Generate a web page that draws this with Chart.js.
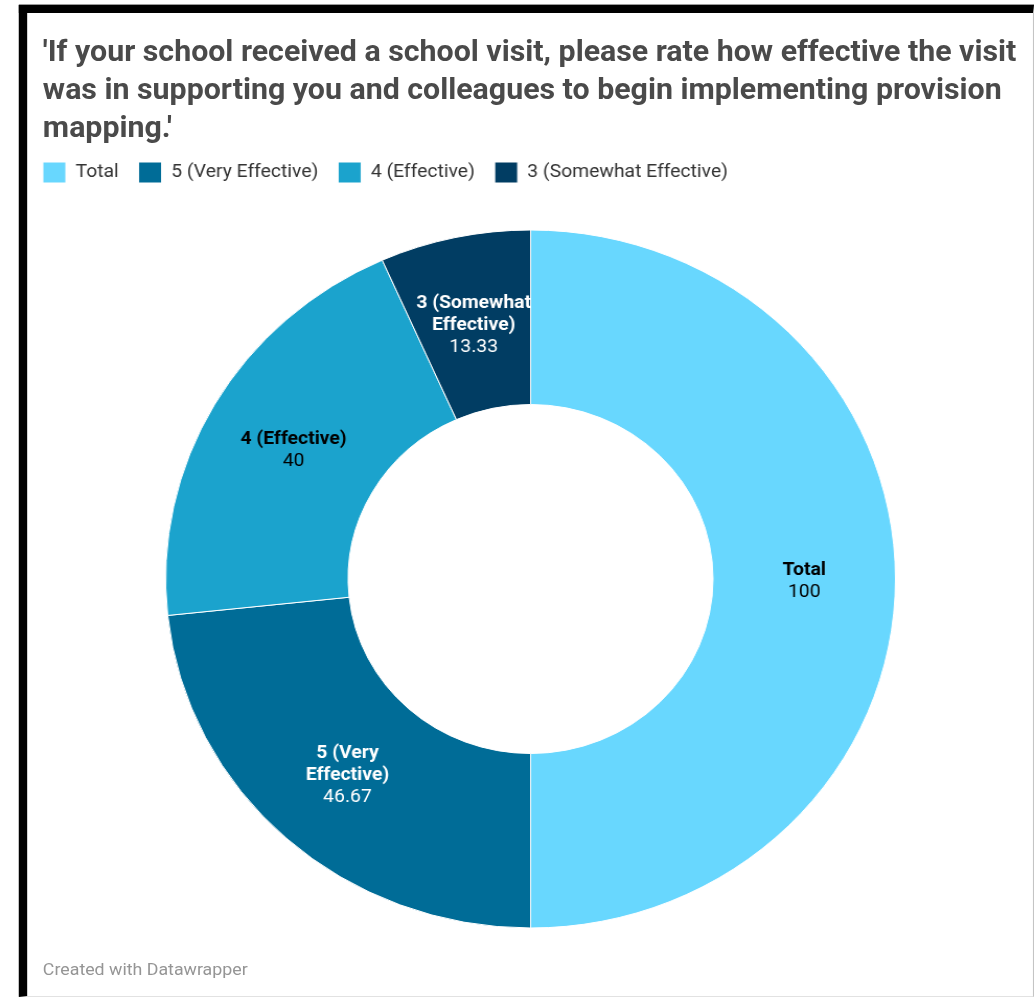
<!DOCTYPE html>
<html>
<head>
<meta charset="utf-8">
<script src="https://cdn.jsdelivr.net/npm/chart.js@4/dist/chart.umd.min.js"></script>
<style>
    body { margin: 0; background: #fff; overflow: hidden; }
    /* whole card is drawn a little wider than tall */
    #page {
        position: relative;
        width: 994px;
        height: 997px;
        transform: scaleX(1.0455);
        transform-origin: 0 0;
        font-family: Roboto, "Noto Sans", sans-serif;
    }
    #frame {
        position: absolute;
        left: 18px;
        top: 5px;
        width: 971px;
        height: 992px;
        box-sizing: border-box;
        border-top: 8px solid #000;
        border-left: 8px solid #000;
        border-right: 1px solid #c4c4c4;
        border-bottom: 1px solid #e2e2e2;
        box-shadow: 0 -1px 0 #9a9a9a;
    }
    #title {
        position: absolute;
        left: 41px;
        top: 32px;
        margin: 0;
        font-size: 29px;
        font-weight: 700;
        line-height: 38px;
        color: #4a4a4a;
        white-space: nowrap;
    }
    #chartCanvas {
        position: absolute;
        left: 0;
        top: 130px;
    }
    #footer {
        position: absolute;
        left: 41px;
        top: 958px;
        font-size: 17px;
        line-height: 22px;
        color: #959595;
    }
</style>
</head>
<body>
<div id="page">
    <div id="frame"></div>
    <h1 id="title">'If your school received a school visit, please rate how effective the visit<br>was in supporting you and colleagues to begin implementing provision<br>mapping.'</h1>
    <canvas id="chartCanvas" width="994" height="850"></canvas>
    <div id="footer">Created with Datawrapper</div>
</div>
<script>
// Survey answers
const categories = ['Total', '5 (Very Effective)', '4 (Effective)', '3 (Somewhat Effective)'];
const values = [100, 46.67, 40, 13.33];

// Slice fills and the text colour used on top of each
const sliceColors = ['#68d7fe', '#006c97', '#1ba3cd', '#013d63'];
const labelTextColors = ['#000000', '#ffffff', '#000000', '#ffffff'];

// Break a label into lines no wider than maxWidth
function wrapText(ctx, text, maxWidth) {
    const words = text.split(' ');
    const lines = [];
    let line = words[0];
    for (let i = 1; i < words.length; i++) {
        const test = line + ' ' + words[i];
        if (ctx.measureText(test).width > maxWidth) {
            lines.push(line);
            line = words[i];
        } else {
            line = test;
        }
    }
    lines.push(line);
    return lines;
}

// Name (bold) and value written in the middle of each ring segment
const sliceLabels = {
    id: 'sliceLabels',
    afterDatasetsDraw(chart) {
        const ctx = chart.ctx;
        const meta = chart.getDatasetMeta(0);
        const boldFont = '700 18.5px Roboto, sans-serif';
        const valueFont = '400 18.5px Roboto, sans-serif';
        const lineHeight = 22;

        ctx.save();
        ctx.textAlign = 'center';
        ctx.textBaseline = 'middle';
        meta.data.forEach((arc, i) => {
            const pos = arc.tooltipPosition();
            ctx.font = boldFont;
            const nameLines = wrapText(ctx, categories[i], 130);
            const lines = nameLines.map(t => ({ text: t, font: boldFont }));
            lines.push({ text: String(chart.data.datasets[0].data[i]), font: valueFont });

            // small nudge so the block sits visually centred
            let y = pos.y + 2 - (lines.length - 1) * lineHeight / 2;
            ctx.fillStyle = labelTextColors[i];
            lines.forEach(l => {
                ctx.font = l.font;
                ctx.fillText(l.text, pos.x, y);
                y += lineHeight;
            });
        });
        ctx.restore();
    }
};

const ctx = document.getElementById('chartCanvas').getContext('2d');
new Chart(ctx, {
    type: 'doughnut',
    data: {
        labels: categories,
        datasets: [{
            data: values,
            backgroundColor: sliceColors,
            borderColor: '#ffffff',
            borderWidth: 1
        }]
    },
    options: {
        responsive: false,
        animation: false,
        devicePixelRatio: 1,
        radius: 349,
        cutout: '50%',
        layout: {
            padding: { left: 22, right: 1, top: 13, bottom: 15 }
        },
        plugins: {
            tooltip: { enabled: false },
            legend: {
                position: 'top',
                align: 'start',
                labels: {
                    boxWidth: 22,
                    boxHeight: 21,
                    padding: 19,
                    color: '#333333',
                    font: { family: 'Roboto, sans-serif', size: 18.5 }
                }
            }
        }
    },
    plugins: [sliceLabels]
});
</script>
</body>
</html>
